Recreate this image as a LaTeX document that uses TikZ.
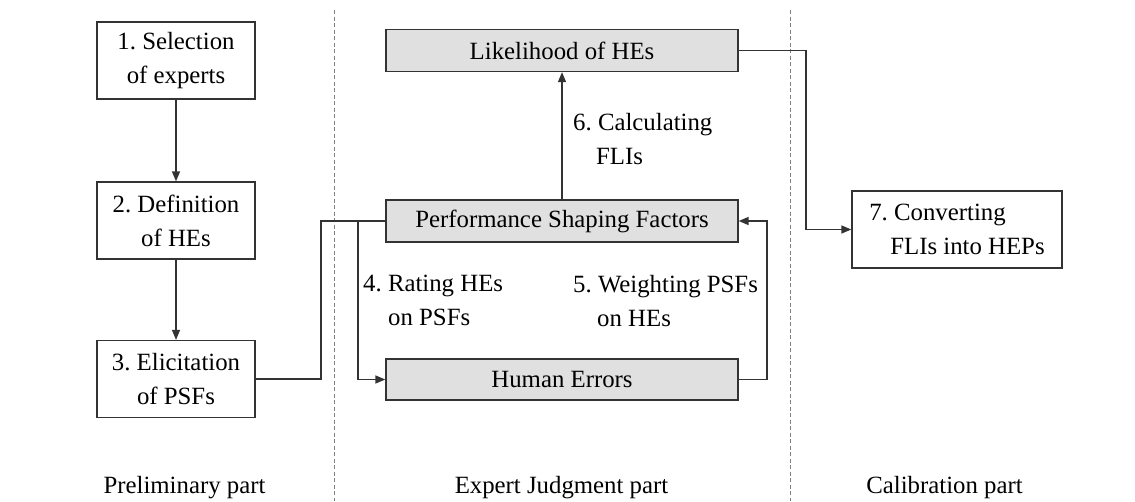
\documentclass[tikz,border=0pt]{standalone}
\usepackage{fontspec}
\setmainfont{Liberation Serif}
\usetikzlibrary{arrows.meta}
\definecolor{boxgray}{HTML}{E0E0E0}
\definecolor{linegray}{HTML}{333333}
\frenchspacing
\tikzset{
  every node/.style={font=\fontsize{24.8}{34}\selectfont, text=black},
  whitebox/.style={draw=linegray, line width=1.3pt, fill=white, minimum width=158pt, minimum height=77pt, inner sep=0pt, align=center},
  graybox/.style={draw=linegray, line width=1.3pt, fill=boxgray, minimum width=352pt, minimum height=42pt, inner sep=0pt},
  lbl/.style={inner sep=0pt, anchor=north west, align=left},
  conn/.style={draw=linegray, line width=1.4pt},
  arr/.style={conn, -{Triangle[length=10pt,width=8pt]}},
  divider/.style={draw=gray, line width=0.8pt, dash pattern=on 4pt off 2.5pt}
}
\begin{document}
\begin{tikzpicture}[x=1pt,y=-1pt]
\useasboundingbox (0,0) rectangle (1135,501);
% dividers
\coordinate (d1t) at (334,10); \coordinate (d1b) at (334,501);
\coordinate (d2t) at (790,10); \coordinate (d2b) at (790,501);
\draw[divider] (d1t) -- (d1b);
\draw[divider] (d2t) -- (d2b);
% preliminary boxes
\node[whitebox] (b1) at (176,60.5) {1. Selection\\of experts};
\node[whitebox] (b2) at (176,220.5) {2. Definition\\of HEs};
\node[whitebox] (b3) at (176,379) {3. Elicitation\\of PSFs};
% expert judgment boxes
\node[graybox] (lh) at (562,50.5) {Likelihood of HEs};
\node[graybox] (psf) at (562,221) {Performance Shaping Factors};
\node[graybox, minimum height=41pt] (he) at (562,379.5) {Human Errors};
% calibration box
\node[whitebox, minimum width=210pt, align=left] (b7) at (957,229.5) {7. Converting\\\hspace{21pt}FLIs into HEPs};
% connectors
\draw[arr] (b1) -- (b2);
\draw[arr] (b2) -- (b3);
\coordinate (j1) at (321,379);
\coordinate (j2) at (321,221);
\coordinate (j3) at (358,221);
\coordinate (j4) at (358,379.5);
\draw[conn] (b3.east |- j1) -- (j1) -- (j2) -- (psf.west);
\draw[arr] (j3) -- (j4) -- (he.west);
\coordinate (r1) at (767,379.5);
\coordinate (r2) at (767,221);
\draw[arr] (he.east) -- (r1) -- (r2) -- (psf.east);
\draw[arr] (psf.north) -- (lh.south);
\coordinate (c1) at (806,50.5);
\coordinate (c2) at (806,229.5);
\draw[arr] (lh.east) -- (c1) -- (c2) -- (b7.west);
% labels
\node[lbl] (l6) at (573,113) {6. Calculating\\\hspace{23pt}FLIs};
\node[lbl] (l4) at (363,275) {4. Rating HEs\\\hspace{25pt}on PSFs};
\node[lbl] (l5) at (573,275) {5. Weighting PSFs\\\hspace{24pt}on HEs};
% part titles
\node[anchor=base] (p1) at (184.5,493) {Preliminary part};
\node[anchor=base] (p2) at (561.5,493) {Expert Judgment part};
\node[anchor=base] (p3) at (944.5,493) {Calibration part};
\end{tikzpicture}
\end{document}
